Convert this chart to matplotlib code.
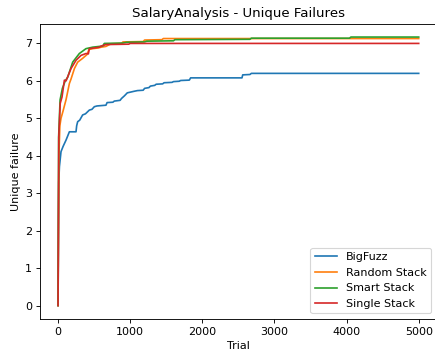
import matplotlib
matplotlib.use("Agg")
import matplotlib.pyplot as plt

# curves (polyline points, repeated x-ish for the steps)
bigfuzz_x = [0, 10, 19, 41, 70, 111, 157, 249, 258, 272, 300, 341, 380, 434, 470, 503, 540, 664, 680,
             760, 780, 860, 880, 920, 960, 1050, 1100, 1180, 1200, 1260, 1280, 1340, 1360, 1450, 1470,
             1580, 1600, 1680, 1700, 1820, 1838, 2550, 2560, 2660, 2680, 5000]
bigfuzz_y = [0, 3.3, 3.71, 4.11, 4.25, 4.42, 4.64, 4.64, 4.8, 4.91, 4.95, 5.09, 5.12, 5.22, 5.24, 5.31, 5.33, 5.35, 5.42,
             5.43, 5.46, 5.48, 5.53, 5.6, 5.68, 5.72, 5.74, 5.75, 5.8, 5.82, 5.86, 5.88, 5.91, 5.92, 5.95,
             5.96, 5.98, 5.99, 6.01, 6.02, 6.08, 6.08, 6.16, 6.17, 6.2, 6.2]

random_x = [0, 12, 25, 41, 70, 111, 157, 180, 227, 272, 340, 400, 430, 480, 560, 600, 664, 733,
            880, 900, 1180, 1200, 1440, 1460, 5000]
random_y = [0, 4.0, 4.8, 5.0, 5.2, 5.5, 5.93, 6.05, 6.33, 6.5, 6.6, 6.7, 6.84, 6.86, 6.88, 6.9, 6.92, 6.99,
            7.0, 7.04, 7.05, 7.09, 7.1, 7.13, 7.13]

smart_x = [0, 8, 28, 60, 100, 134, 203, 295, 387, 480, 620, 641, 900, 950, 1200, 1230, 1600, 1620,
           2660, 2680, 4040, 4060, 5000]
smart_y = [0, 4.5, 5.49, 5.8, 6.0, 6.1, 6.5, 6.73, 6.86, 6.9, 6.93, 7.0, 7.01, 7.03, 7.04, 7.06, 7.07, 7.1,
           7.11, 7.14, 7.14, 7.17, 7.17]

single_x = [0, 10, 30, 55, 88, 111, 180, 249, 318, 387, 420, 434, 573, 600, 664, 980, 1000, 5000]
single_y = [0, 4.5, 5.4, 5.57, 6.02, 6.0, 6.33, 6.55, 6.68, 6.73, 6.72, 6.86, 6.9, 6.93, 6.97, 6.98, 7.0, 7.0]

fig = plt.figure(figsize=(435 / 80, 358 / 80), dpi=80)
ax = fig.add_axes([0.092, 0.109, 0.912, 0.825])

ax.plot(bigfuzz_x, bigfuzz_y, label="BigFuzz")
ax.plot(random_x, random_y, label="Random Stack")
ax.plot(smart_x, smart_y, label="Smart Stack")
ax.plot(single_x, single_y, label="Single Stack")

ax.set_title("SalaryAnalysis - Unique Failures")
ax.set_xlabel("Trial")
ax.set_ylabel("Unique failure")
ax.legend(loc="lower right")

fig.savefig("out.png", dpi=80)
